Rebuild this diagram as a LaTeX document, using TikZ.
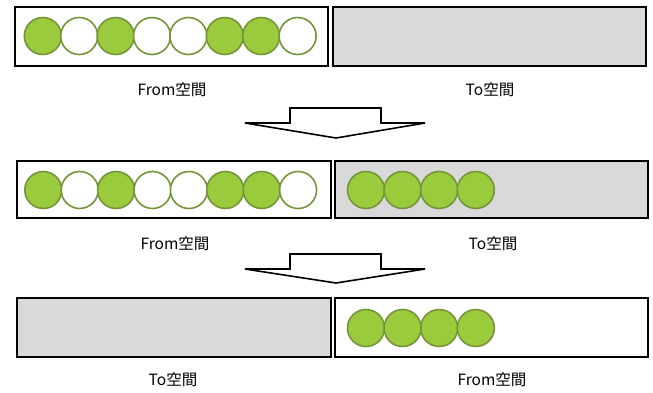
\documentclass[tikz,border=0pt]{standalone}
\usepackage{fontspec}
\setmainfont{Noto Sans CJK JP}
\begin{document}
\begin{tikzpicture}[x=1pt,y=-1pt,
  space/.style={draw=black,line width=2pt,inner sep=0pt,outer sep=0pt,rectangle},
  fromsp/.style={space,fill=white},
  tosp/.style={space,fill=boxgray},
  ball/.style={circle,draw=ballline,line width=1.6pt,minimum size=37pt,inner sep=0pt},
  full/.style={ball,fill=ballgreen},
  empty/.style={ball,fill=white},
  lbl/.style={font=\fontsize{15.5}{17}\selectfont,inner sep=0pt},
  bigarrow/.style={draw=black,line width=1.6pt,fill=white,line join=miter}]
\definecolor{ballgreen}{HTML}{9ACB3C}
\definecolor{ballline}{HTML}{76953A}
\definecolor{boxgray}{HTML}{D9D9D9}
\useasboundingbox (0,0) rectangle (653,392);
% row 1
\node[fromsp,minimum width=313pt,minimum height=59pt] (f1) at (171.5,36.5) {};
\node[tosp,minimum width=313pt,minimum height=59pt] (t1) at (489.5,36.5) {};
\foreach \s [count=\i from 0] in {full,empty,full,empty,empty,full,full,empty}
  \node[\s] (a\i) at (42.8+36.4*\i,36) {};
\node[lbl] (lf1) at (172,90) {From空間};
\node[lbl] (lt1) at (490,90) {To空間};
% arrow 1
\draw[bigarrow] (290,108) -- (381,108) -- (381,123) -- (425,123) -- (336,138) -- (245,123) -- (290,123) -- cycle;
% row 2
\node[fromsp,minimum width=314pt,minimum height=57pt] (f2) at (174,189.5) {};
\node[tosp,minimum width=313pt,minimum height=57pt] (t2) at (491.5,189.5) {};
\foreach \s [count=\i from 0] in {full,empty,full,empty,empty,full,full,empty}
  \node[\s] (b\i) at (43.3+36.4*\i,190) {};
\foreach \i in {0,...,3}
  \node[full] (c\i) at (366+36.6*\i,190) {};
\node[lbl] (lf2) at (175,244) {From空間};
\node[lbl] (lt2) at (493,244) {To空間};
% arrow 2
\draw[bigarrow] (290,254) -- (381,254) -- (381,269) -- (425,269) -- (336,283) -- (245,269) -- (290,269) -- cycle;
% row 3
\node[tosp,minimum width=314pt,minimum height=59pt] (t3) at (174,327.5) {};
\node[fromsp,minimum width=313pt,minimum height=59pt] (f3) at (491.5,327.5) {};
\foreach \i in {0,...,3}
  \node[full] (d\i) at (366+36.6*\i,328) {};
\node[lbl] (lt3) at (173,380) {To空間};
\node[lbl] (lf3) at (492,380) {From空間};
\end{tikzpicture}
\end{document}
